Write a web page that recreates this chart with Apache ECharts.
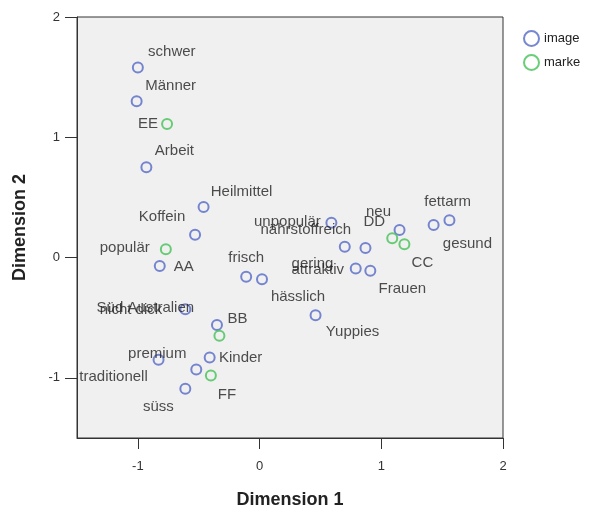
<!DOCTYPE html>
<html>
<head>
<meta charset="utf-8">
<script src="https://cdn.jsdelivr.net/npm/echarts@6/dist/echarts.min.js"></script>
<style>html,body{margin:0;padding:0;background:#fff}#c{width:590px;height:514px}</style>
</head>
<body>
<div id="c"></div>
<script>
// ---- data ----
const imageNames = ["schwer","Männer","Arbeit","Heilmittel","Koffein","populär","frisch","hässlich","Süd Australien","nicht dick","Kinder","traditionell","premium","süss","unpopulär","nährstoffreich","gering","neu","fettarm","gesund","attraktiv","Frauen","Yuppies"];
const imageX = [-1.00,-1.01,-0.93,-0.46,-0.53,-0.82,-0.11,0.02,-0.61,-0.35,-0.41,-0.83,-0.52,-0.61,0.59,0.70,0.87,1.15,1.43,1.56,0.79,0.91,0.46];
const imageY = [1.58,1.30,0.75,0.42,0.19,-0.07,-0.16,-0.18,-0.43,-0.56,-0.83,-0.85,-0.93,-1.09,0.29,0.09,0.08,0.23,0.27,0.31,-0.09,-0.11,-0.48];
const markeNames = ["EE","AA","BB","DD","CC","FF"];
const markeX = [-0.76,-0.77,-0.33,1.09,1.19,-0.40];
const markeY = [1.11,0.07,-0.65,0.16,0.11,-0.98];
const xTicks = [-1,0,1,2];
const yTicks = [-1,0,1,2];

// ---- label placement (style, px offsets from point) ----
const labelOffsets = {
  "schwer":[34,-16],"Männer":[34,-15],"Arbeit":[28,-16],"Heilmittel":[38,-15],"Koffein":[-33,-18],
  "populär":[-35,-18],"frisch":[0,-19],"hässlich":[36,18],"Süd Australien":[-40,-1],"nicht dick":[-86,-15],
  "Kinder":[31,0],"traditionell":[-45,17],"premium":[-39,-16],"süss":[-27,18],"unpopulär":[-44,-1],
  "nährstoffreich":[-39,-17],"gering":[-53,16],"neu":[-21,-18],"fettarm":[14,-23],"gesund":[18,24],
  "attraktiv":[-38,1],"Frauen":[32,18],"Yuppies":[37,17],
  "EE":[-19,0],"AA":[18,18],"BB":[18,-17],"DD":[-18,-16],"CC":[18,19],"FF":[16,19]
};

const FONT = "'Liberation Sans', Arial, sans-serif";
function build(names, xs, ys) {
  return names.map((n, i) => ({
    name: n,
    value: [xs[i], ys[i]],
    label: { offset: labelOffsets[n] || [0, 0] }
  }));
}
const blue = '#5569c6';
const green = '#45c257';

const chart = echarts.init(document.getElementById('c'), null, {renderer: 'canvas'});
chart.setOption({
  animation: false,
  backgroundColor: '#ffffff',
  textStyle: { fontFamily: FONT },
  grid: { left: 77, top: 17, width: 426, height: 427, show: true, backgroundColor: '#f0f0f0', borderColor: '#333', borderWidth: 1 },
  legend: {
    orient: 'vertical', left: 518, top: 25, itemWidth: 15, itemHeight: 15, itemGap: 7,
    icon: 'circle',
    textStyle: { fontSize: 13, color: '#222', fontFamily: FONT },
    data: ['image', 'marke']
  },
  xAxis: {
    type: 'value', min: -1.5, max: 2,
    name: 'Dimension 1', nameLocation: 'middle', nameGap: 53,
    nameTextStyle: { fontSize: 18, fontWeight: 'bold', color: '#222', fontFamily: FONT },
    axisLine: { show: true, onZero: false, lineStyle: { color: '#333', width: 1 } },
    axisTick: { show: true, length: 11, inside: false, customValues: xTicks, lineStyle: { color: '#333' } },
    axisLabel: { customValues: xTicks, margin: 22, fontSize: 13, color: '#333', fontFamily: FONT },
    splitLine: { show: false }
  },
  yAxis: {
    type: 'value', min: -1.5, max: 2,
    name: 'Dimension 2', nameLocation: 'middle', nameGap: 48, nameRotate: 90,
    nameTextStyle: { fontSize: 18, fontWeight: 'bold', color: '#222', fontFamily: FONT },
    axisLine: { show: true, onZero: false, lineStyle: { color: '#333', width: 1 } },
    axisTick: { show: true, length: 12, inside: false, customValues: yTicks, lineStyle: { color: '#333' } },
    axisLabel: { customValues: yTicks, margin: 17, fontSize: 13, color: '#333', fontFamily: FONT },
    splitLine: { show: false }
  },
  series: [
    {
      name: 'image', type: 'scatter', symbol: 'circle', symbolSize: 10,
      itemStyle: { color: 'transparent', borderColor: blue, borderWidth: 2 },
      label: { show: true, position: 'inside', formatter: '{b}', color: '#222', fontSize: 15, fontFamily: FONT },
      emphasis: { disabled: true },
      data: build(imageNames, imageX, imageY)
    },
    {
      name: 'marke', type: 'scatter', symbol: 'circle', symbolSize: 10,
      itemStyle: { color: 'transparent', borderColor: green, borderWidth: 2 },
      label: { show: true, position: 'inside', formatter: '{b}', color: '#222', fontSize: 15, fontFamily: FONT },
      emphasis: { disabled: true },
      data: build(markeNames, markeX, markeY)
    }
  ]
});
</script>
</body>
</html>
